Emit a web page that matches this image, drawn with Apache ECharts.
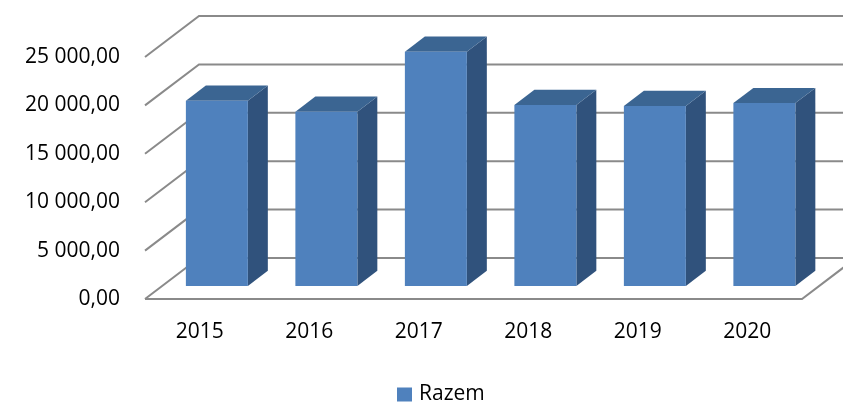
<!DOCTYPE html>
<html><head><meta charset="utf-8">
<script src="https://cdn.jsdelivr.net/npm/echarts@6/dist/echarts.min.js"></script>
<style>html,body{margin:0;padding:0;background:#fff}#c{width:843px;height:404px}</style>
</head><body><div id="c"></div>
<script>
const categories = ['2015','2016','2017','2018','2019','2020'];
const razem = [19150, 18000, 24200, 18700, 18600, 18900];
const yTicks = [0, 5000, 10000, 15000, 20000, 25000];
const seriesName = 'Razem';

const DX = 54, DY = 41;          // wall depth offset
const F0 = 0.317, F1 = 0.687;    // bar depth range (fraction of wall depth)
const BAR_W = 0.566;             // bar width / band width
const FONT = 'Open Sans';
const FS = 21;

function fmt(v){
  const s = Math.round(v).toString().replace(/\B(?=(\d{3})+(?!\d))/g, ' ');
  return s + ',00';
}

const chart = echarts.init(document.getElementById('c'), null, {renderer:'canvas'});
chart.setOption({
  animation:false,
  grid:{left:145, right:41, top:57, bottom:105},
  legend:{
    left:397, top:384, padding:0, itemWidth:15, itemHeight:14, itemGap:6,
    icon:'rect',
    textStyle:{fontFamily:FONT, fontSize:FS, color:'#000', lineHeight:20, padding:[0,0,0,2]},
    data:[seriesName]
  },
  xAxis:{
    type:'category', data:categories,
    axisLine:{show:false}, axisTick:{show:false},
    axisLabel:{fontFamily:FONT, fontSize:FS, color:'#000', margin:23}
  },
  yAxis:{
    type:'value', min:0, max:25000, interval:5000,
    axisLine:{show:false}, axisTick:{show:false}, splitLine:{show:false},
    axisLabel:{fontFamily:FONT, fontSize:FS, color:'#000', margin:25, formatter:fmt}
  },
  series:[
    {
      type:'custom', name:'grid3d', silent:true, z:1, clip:false,
      data: yTicks.map(v => [0, v]),
      encode:{x:0, y:1},
      renderItem:function(params, api){
        const cs = params.coordSys;
        const v = api.value(1);
        const y = api.coord([0, v])[1];
        const xl = cs.x, xr = cs.x + cs.width;
        const style = {stroke:'#8a8a8a', lineWidth:2, fill:null};
        const children = [{
          type:'polyline',
          shape:{points:[[xl, y],[xl+DX, y-DY],[xr+DX, y-DY]]},
          style:style
        }];
        if (v === 0) {
          children.push({
            type:'polyline',
            shape:{points:[[xl, y],[xr, y],[xr+DX, y-DY]]},
            style:style
          });
        }
        return {type:'group', children:children};
      }
    },
    {
      type:'custom', name:seriesName, z:2, clip:false,
      itemStyle:{color:'#4F81BD'},
      data: razem.map((v,i) => [i, v]),
      encode:{x:0, y:1},
      renderItem:function(params, api){
        const i = api.value(0), v = api.value(1);
        const p0 = api.coord([i, 0]);
        const pv = api.coord([i, v]);
        const band = api.size([1, 0])[0];
        const w = band * BAR_W;
        const ox = F0*DX, oy = F0*DY;
        const bdx = (F1-F0)*DX, bdy = (F1-F0)*DY;
        const x0 = p0[0] - w/2 + ox, x1 = p0[0] + w/2 + ox;
        const yt = pv[1] - oy, yb = p0[1] - oy;
        return {type:'group', children:[
          {type:'polygon', shape:{points:[[x1,yt],[x1,yb],[x1+bdx,yb-bdy],[x1+bdx,yt-bdy]]},
            style:{fill:'#30527C'}},
          {type:'polygon', shape:{points:[[x0,yt],[x1,yt],[x1+bdx,yt-bdy],[x0+bdx,yt-bdy]]},
            style:{fill:'#3B6592'}},
          {type:'rect', shape:{x:x0, y:yt, width:x1-x0, height:yb-yt},
            style:{fill:'#4F81BD'}}
        ]};
      }
    }
  ]
});
</script></body></html>
